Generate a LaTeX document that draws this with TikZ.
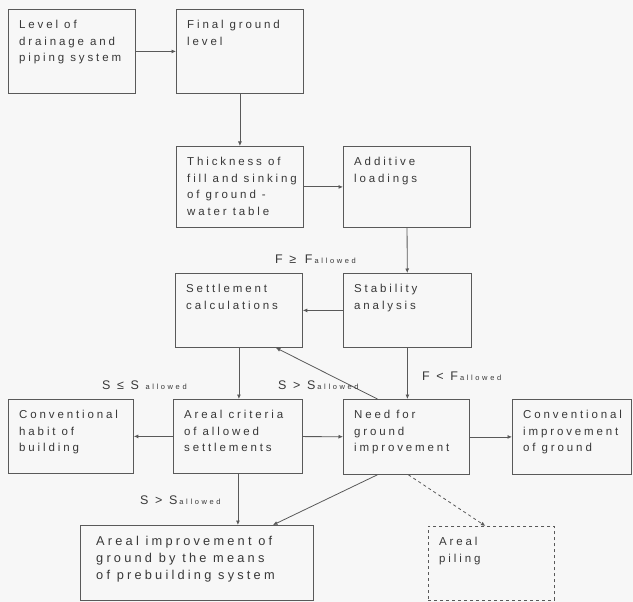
\documentclass[tikz,border=0pt]{standalone}
\usepackage{fontspec}
\setmainfont{Liberation Sans}[LetterSpace=25]
\usetikzlibrary{arrows.meta}
\definecolor{ink}{gray}{0.22}
\definecolor{wire}{gray}{0.35}
\newcommand{\allw}{{\fontsize{7.5}{8}\selectfont\addfontfeature{LetterSpace=35}allowed}}
\begin{document}
\begin{tikzpicture}[x=1pt,y=-1pt,
 box/.style 2 args={draw=wire,line width=0.8pt,anchor=north west,minimum width=#1,minimum height=#2},
 txt/.style={anchor=north west,align=left,text=ink,inner sep=0pt,font=\fontsize{11.5}{16.7}\selectfont},
 arr/.style={draw=wire,line width=0.8pt,-{Latex[length=4.5pt,width=4pt]}},
 lbl/.style={anchor=base west,text=ink,inner sep=0pt,font=\fontsize{12.5}{14}\selectfont}]
 \fill[white!97!black] (0,0) rectangle (633,602);
 \useasboundingbox (0,0) rectangle (633,602);
 % boxes
 \node[box={127}{84}] (lev) at (8,9) {};
 \node[box={127}{84}] (fin) at (176,9) {};
 \node[box={127}{81}] (thk) at (176,146) {};
 \node[box={127}{81}] (add) at (343,146) {};
 \node[box={127}{74}] (set) at (175,273) {};
 \node[box={128}{74}] (sta) at (343,273) {};
 \node[box={125}{74}] (con) at (8,399) {};
 \node[box={129}{74}] (are) at (173,399) {};
 \node[box={126}{75}] (ned) at (343,399) {};
 \node[box={119}{75}] (cim) at (512,399) {};
 \node[box={233}{75}] (imp) at (80,525) {};
 \node[box={126}{74},dashed] (pil) at (428,526) {};
 % box texts
 \node[txt] (levt) at ([shift={(11,11)}]lev.north west) {Level of\\drainage and\\piping system};
 \node[txt] (fint) at ([shift={(11,11)}]fin.north west) {Final ground\\level};
 \node[txt] (thkt) at ([shift={(11,11)}]thk.north west) {Thickness of\\fill and sinking\\of ground -\\water table};
 \node[txt] (addt) at ([shift={(11,11)}]add.north west) {Additive\\loadings};
 \node[txt] (sett) at ([shift={(11,11)}]set.north west) {Settlement\\calculations};
 \node[txt] (stat) at ([shift={(11,11)}]sta.north west) {Stability\\analysis};
 \node[txt] (cont) at ([shift={(11,11)}]con.north west) {Conventional\\habit of\\building};
 \node[txt] (aret) at ([shift={(11,11)}]are.north west) {Areal criteria\\of allowed\\settlements};
 \node[txt] (nedt) at ([shift={(11,11)}]ned.north west) {Need for\\ground\\improvement};
 \node[txt] (cimt) at ([shift={(11,11)}]cim.north west) {Conventional\\improvement\\of ground};
 \node[txt,font=\fontsize{12.8}{16.8}\selectfont] (impt) at ([shift={(16,11)}]imp.north west) {Areal improvement of\\ground by the means\\of prebuilding system};
 \node[txt] (pilt) at ([shift={(11,11)}]pil.north west) {Areal\\piling};
 % connectors
 \draw[arr] (lev) -- (fin);
 \draw[arr] (fin) -- (thk);
 \draw[arr] (thk) -- (add);
 \draw[arr] (add) -- (sta);
 \draw[arr] (sta) -- (set);
 \draw[arr] (set.south) -- (set.south |- are.north);
 \draw[arr] (sta.south) -- (sta.south |- ned.north);
 \draw[arr] (are) -- (con);
 \draw[arr] (are) -- (ned);
 \draw[arr] (ned) -- (cim);
 \draw[arr] (are.south) -- (are.south |- imp.north);
 \draw[arr] ([xshift=-29]ned.north) -- ([xshift=37]set.south);
 \draw[arr] ([xshift=-29]ned.south) -- ([xshift=76]imp.north);
 \draw[arr,dashed] ([xshift=2]ned.south) -- ([xshift=-6]pil.north);
 % labels
 \node[lbl] (fge) at (275,263) {F ≥ \,F\,\allw};
 \node[lbl] (flt) at (422,380) {F < F\,\allw};
 \node[lbl] (sgt) at (278,389) {S > S\,\allw};
 \node[lbl] (sle) at (102,389) {S ≤ S \allw};
 \node[lbl] (sgb) at (140,504) {S > S\,\allw};
\end{tikzpicture}
\end{document}
